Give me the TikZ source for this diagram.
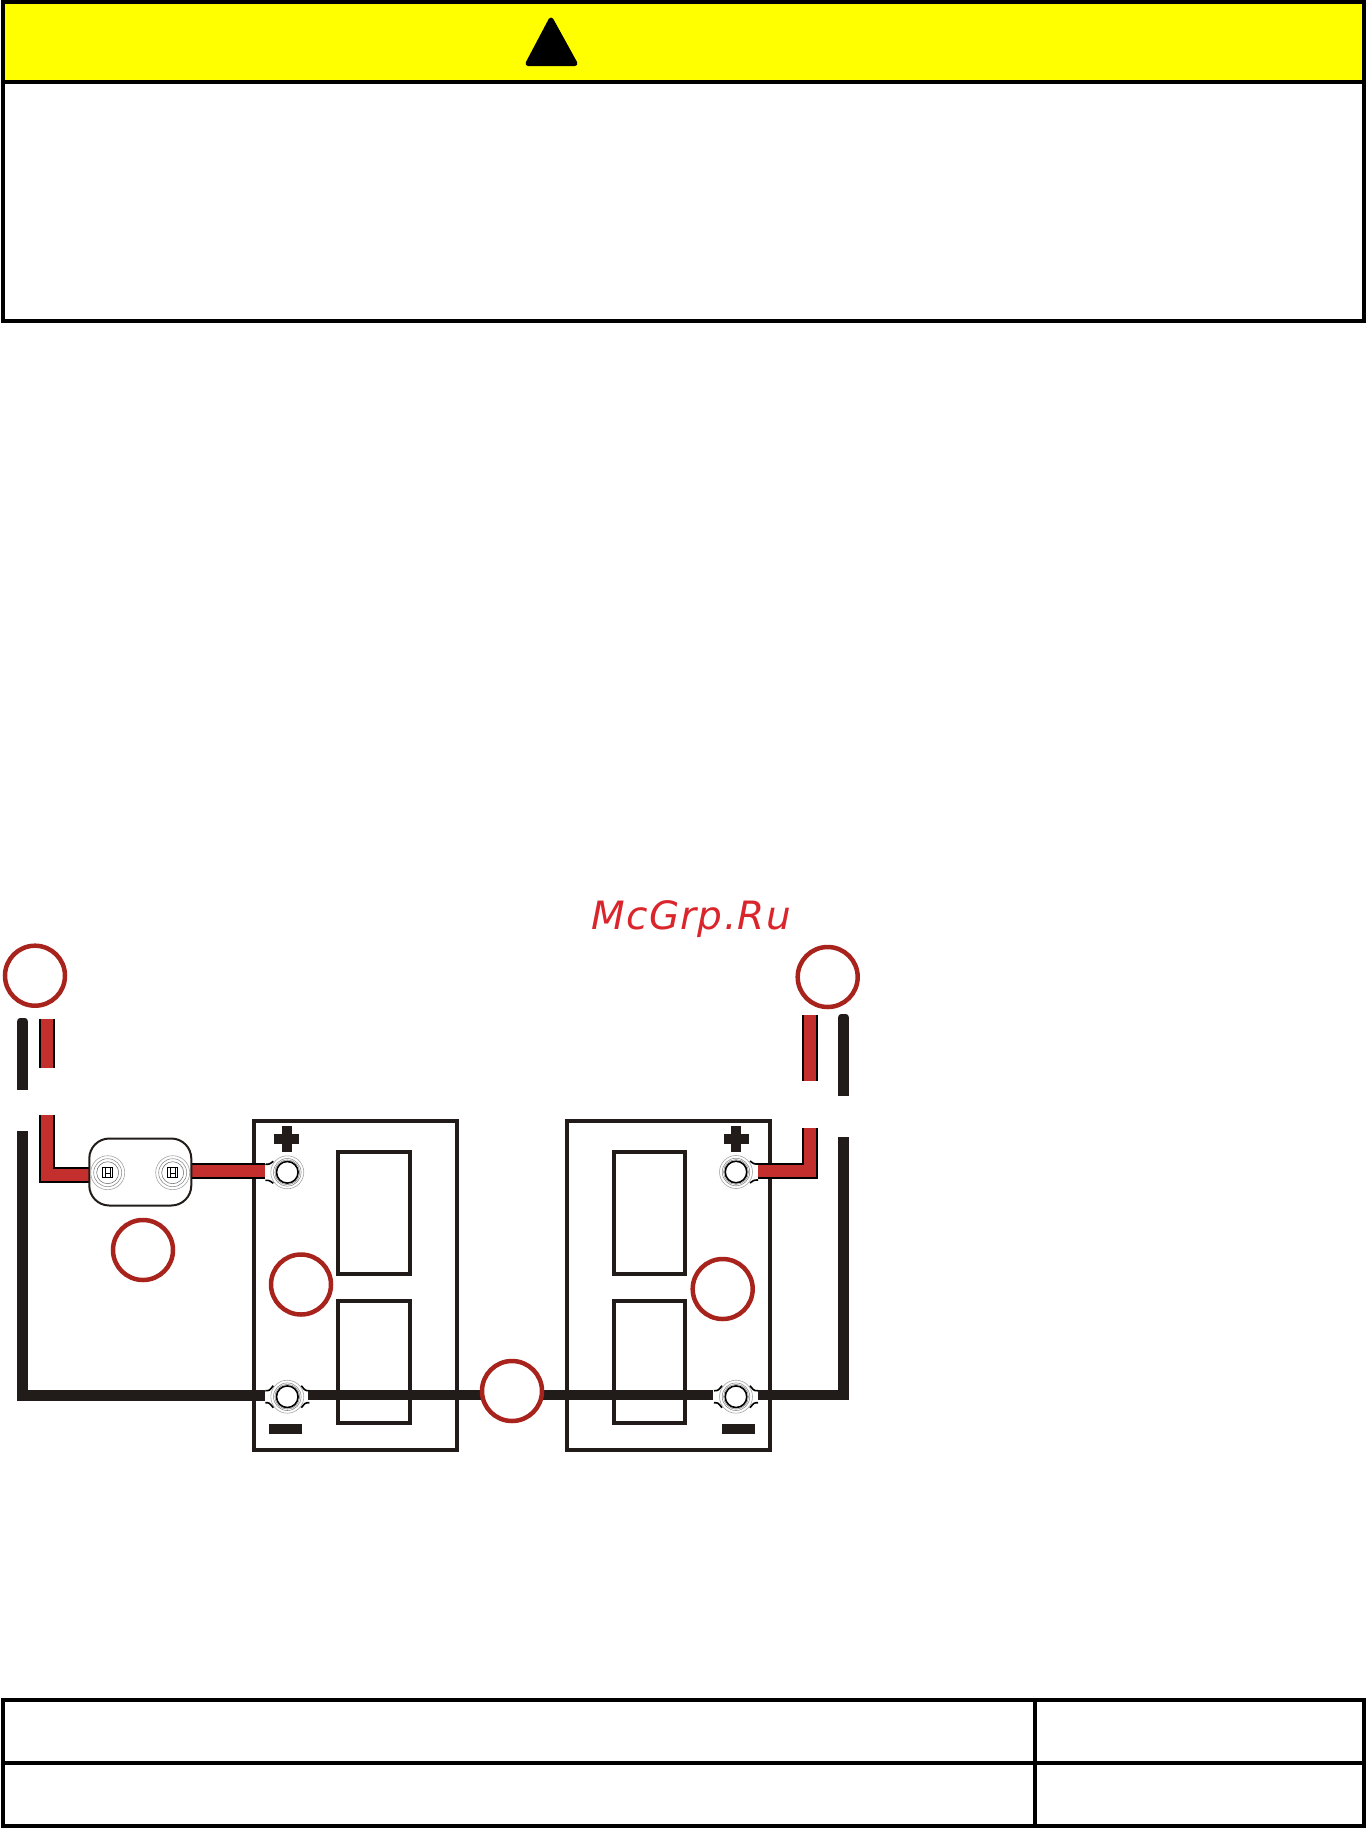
\documentclass[tikz,border=0pt]{standalone}
\usepackage{xcolor}
\usepackage{fontspec}
\usepackage{tikz}
\usetikzlibrary{positioning}
\newfontfamily\markfont[LetterSpace=3.5]{DejaVu Sans}
\definecolor{bannerfill}{RGB}{255,255,0}
\definecolor{wirered}{HTML}{C22F2D}
\definecolor{wireblack}{HTML}{211C19}
\definecolor{ringred}{HTML}{A8231C}
\definecolor{markred}{HTML}{D9252B}
\tikzset{
	panel/.style={draw=black, line width=4pt, inner sep=0pt, outer sep=0pt},
	battery/.style={draw=wireblack, line width=4pt, inner sep=0pt, minimum width=203pt, minimum height=329pt},
	cell/.style={draw=wireblack, line width=4pt, inner sep=0pt, minimum width=72pt, minimum height=122pt},
	fuse/.style={draw=wireblack, line width=2pt, fill=white, rounded corners=20pt, inner sep=0pt, minimum width=102pt, minimum height=67pt},
	callout/.style={circle, draw=ringred, fill=white, line width=4.5pt, inner sep=0pt, minimum size=60pt},
	lug/.style={circle, draw=gray!70, fill=white, line width=.6pt, inner sep=0pt, minimum size=33pt},
	bolt/.style={circle, draw=gray!70, fill=white, line width=.6pt, inner sep=0pt, minimum size=34pt},
	redwire/.style={draw=black, line width=2pt, double=wirered, double distance=12pt, line join=miter},
	blackwire/.style={draw=wireblack, line width=10.5pt, line join=miter},
	neck/.style={draw=black, line width=1.6pt}
}
\begin{document}
\begin{tikzpicture}[x=1pt, y=-1pt]
	\useasboundingbox (0,0) rectangle (1367,1829);
	\node at (683.5,201.5) (notice) [panel, minimum width=1361pt, minimum height=239pt] {};
	\node at (683.5,42) (banner) [panel, fill=bannerfill, minimum width=1361pt, minimum height=80pt] {};
	\filldraw[black, line width=5pt, line join=round] (551,20) -- (528,63.5) -- (575,63.5) -- cycle;
	\node at (591,929) (mark) [anchor=base west, inner sep=0pt, text=markred] {\markfont\fontsize{39pt}{39pt}\selectfont\itshape McGrp.Ru};

	\node at (355.7,1285.5) (batterya) [battery] {};
	\node at (668,1285.5) (batteryb) [battery] {};
	\node at (374,1213) (cella) [cell] {};
	\node at (374,1361.5) (cellb) [cell] {};
	\node at (649.5,1213) (cellc) [cell, minimum width=71pt] {};
	\node at (649.5,1361.5) (celld) [cell, minimum width=71pt] {};

	\fill[wireblack] (274,1134) rectangle (299,1144);
	\fill[wireblack] (281.7,1126) rectangle (291.7,1152);
	\fill[wireblack] (723.7,1134) rectangle (748.7,1144);
	\fill[wireblack] (731.3,1126) rectangle (741.3,1152);
	\fill[wireblack] (269,1424) rectangle (302,1434);
	\fill[wireblack] (722,1424) rectangle (755,1434);

	\coordinate (blacka) at (22.5,1021);
	\coordinate (blackb) at (22.5,1090);
	\coordinate (blackc) at (22.5,1131);
	\coordinate (blackd) at (843.5,1018);
	\coordinate (blacke) at (843.5,1096);
	\coordinate (blackf) at (843.5,1137);
	\coordinate (busa) at (265,1395.4);
	\coordinate (busb) at (308,1395);
	\coordinate (busc) at (713,1395);
	\coordinate (busd) at (758,1395);
	\coordinate (reda) at (47,1019);
	\coordinate (redb) at (47,1068);
	\coordinate (redc) at (47,1115);
	\coordinate (redd) at (89,1175);
	\coordinate (rede) at (191,1171);
	\coordinate (redf) at (265,1171);
	\coordinate (redg) at (810,1015);
	\coordinate (redh) at (810,1081);
	\coordinate (redi) at (810,1128);
	\coordinate (redj) at (758,1171);

	\draw[blackwire] (blacka) -- (blackb);
	\draw[blackwire] (blackd) -- (blacke);
	\fill[wireblack, rounded corners=3pt] (17.2,1018) rectangle (27.8,1030);
	\fill[wireblack, rounded corners=3pt] (838.2,1014) rectangle (848.8,1026);
	\draw[blackwire] (blackc) |- (busa);
	\draw[blackwire] (busb) -- (busc);
	\draw[blackwire] (blackf) |- (busd);
	\draw[redwire] (reda) -- (redb);
	\draw[redwire] (redg) -- (redh);
	\draw[redwire] (redc) |- (redd);
	\draw[redwire] (redi) |- (redj);
	\draw[redwire] (rede) -- (redf);

	\node at (140.3,1172) (fusebox) [fuse] {};
	\foreach \name/\xpos in {boltin/107.7, boltout/172.7} {
		\node at (\xpos,1172.7) (\name) [bolt] {};
		\draw[gray, line width=.5pt] (\name) circle (14pt);
		\draw[gray!80!black, line width=.5pt] (\name) circle (11pt);
		\draw[black, line width=.6pt] ([xshift=-5pt,yshift=-5pt]\name.center) rectangle ([xshift=5pt,yshift=5pt]\name.center);
		\draw[black, line width=.6pt] ([xshift=-2.5pt,yshift=-5pt]\name.center) -- ([xshift=-2.5pt,yshift=5pt]\name.center);
		\draw[black, line width=.6pt] ([xshift=2.5pt,yshift=-5pt]\name.center) -- ([xshift=2.5pt,yshift=5pt]\name.center);
		\draw[black, line width=.4pt] ([xshift=-2.5pt]\name.center) -- ([xshift=2.5pt]\name.center);
	}

	\foreach \name/\xpos/\ypos in {lugposa/287.3/1172.3, lugnega/287.3/1396.7, lugposb/736/1172, lugnegb/736/1396.7} {
		\node at (\xpos,\ypos) (\name) [lug] {};
		\draw[gray, line width=.5pt] (\name) circle (13.8pt);
		\draw[gray, line width=.5pt] (\name) circle (12.4pt);
		\draw[black, line width=1.6pt] (\name) circle (10.8pt);
	}
	\foreach \name/\side/\gap in {lugposa/-1/8, lugnega/-1/6, lugnega/1/6, lugposb/1/8, lugnegb/-1/6, lugnegb/1/6} {
		\draw[neck] ([xshift=\side*22pt,yshift=\gap*1pt]\name.center) .. controls ([xshift=\side*18pt,yshift=\gap*1pt]\name.center) .. ([xshift=\side*14pt,yshift=11pt]\name.center);
		\draw[neck] ([xshift=\side*22pt,yshift=-\gap*1pt]\name.center) .. controls ([xshift=\side*18pt,yshift=-\gap*1pt]\name.center) .. ([xshift=\side*14pt,yshift=-11pt]\name.center);
	}

	\node at (35,975.7) (callouta) [callout] {};
	\node at (827.7,977) (calloutb) [callout] {};
	\node at (143,1250) (calloutc) [callout] {};
	\node at (301,1284.5) (calloutd) [callout] {};
	\node at (722.7,1289) (calloute) [callout] {};
	\node at (512,1391) (calloutf) [callout] {};

	\node at (683.5,1763) (footer) [panel, minimum width=1361pt, minimum height=126pt] {};
	\coordinate (rulea) at (1035,1700);
	\coordinate (ruleb) at (1035,1826);
	\draw[panel] (footer.west) -- (footer.east);
	\draw[panel] (rulea) -- (ruleb);
\end{tikzpicture}
\end{document}
